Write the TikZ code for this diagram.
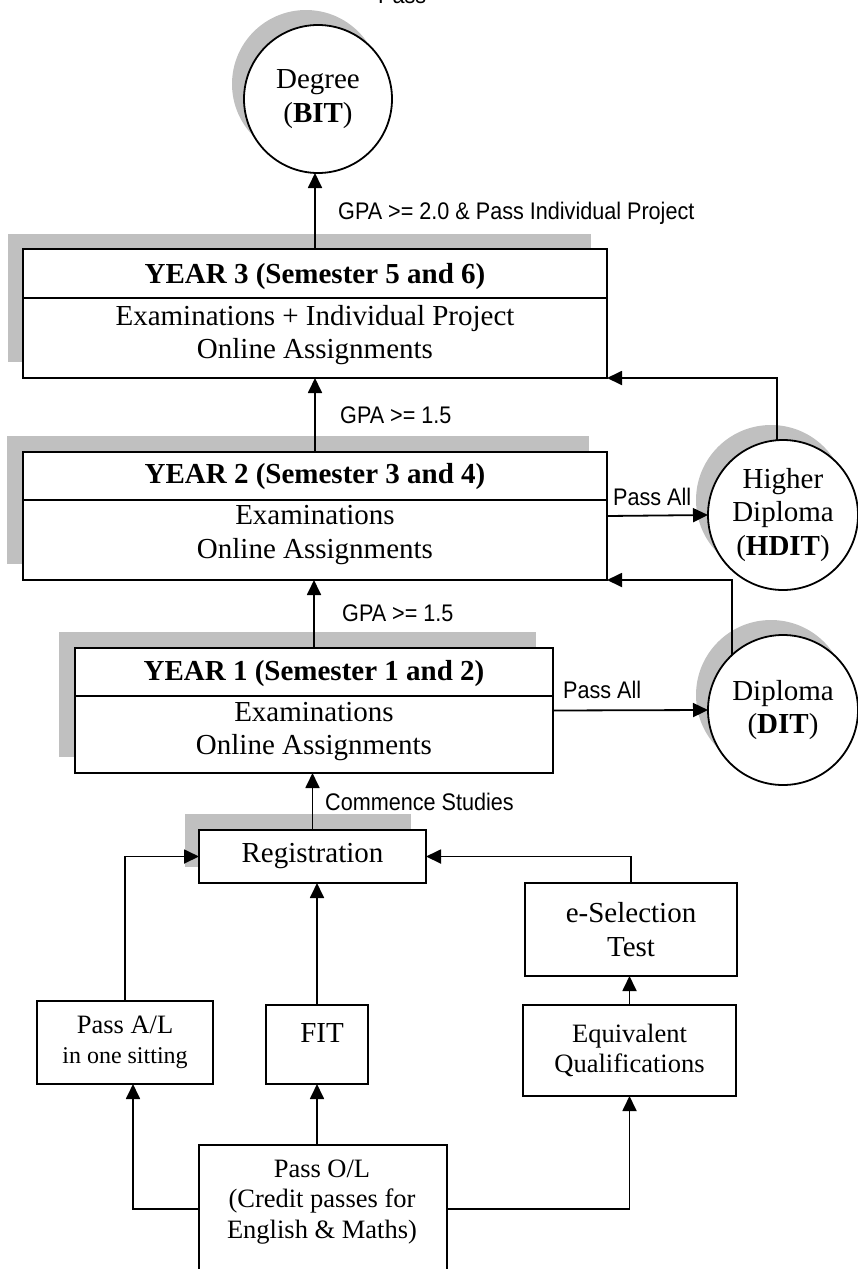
\documentclass[tikz,border=0pt]{standalone}
\usepackage{fontspec}
\setmainfont{Liberation Serif}
\newfontfamily\lblfont[FakeStretch=0.9]{Liberation Sans}
\usetikzlibrary{arrows.meta}
\definecolor{shadowgray}{RGB}{192,192,192}
\begin{document}
\begin{tikzpicture}[x=1pt,y=-1pt,
  box/.style={draw, fill=white, inner sep=0pt, outer sep=0pt, line width=1.8pt},
  bigtxt/.style={font={\fontsize{29}{33.5}\selectfont}, align=center, inner sep=0pt},
  midtxt/.style={font={\fontsize{26.5}{30.5}\selectfont}, align=center, inner sep=0pt},
  titletxt/.style={font={\fontsize{29}{33.5}\selectfont\bfseries}, align=center, inner sep=0pt},
  circ/.style={circle, draw, fill=white, inner sep=0pt, outer sep=0pt, line width=1.8pt,
    minimum size=150pt, align=center, font={\fontsize{29}{33.5}\selectfont}},
  divider/.style={line width=1.8pt},
  arr/.style={-{Triangle[length=15pt,width=14pt]}, line width=1.8pt},
  lbl/.style={font={\lblfont\fontsize{24}{28}\selectfont}, anchor=west, inner sep=0pt}
]
\useasboundingbox (0,0) rectangle (857,1269);

% shadows
\fill[shadowgray] (8,234) rectangle (591,362);
\fill[shadowgray] (7,436) rectangle (589,564);
\fill[shadowgray] (59,632) rectangle (536,757);
\fill[shadowgray] (185,814) rectangle (411,867);
\fill[shadowgray] (306,84) circle[radius=74];
\fill[shadowgray] (771,500) circle[radius=75];
\fill[shadowgray] (771,695) circle[radius=75];

% circles
\node[circ, minimum size=148pt] (deg) at (318,99) {Degree\\(\textbf{BIT})};
\node[circ] (hdit) at (783,515) {Higher\\Diploma\\(\textbf{HDIT})};
\node[circ] (dit) at (783,710) {Diploma\\(\textbf{DIT})};

% Year 3
\node[box, minimum width=584pt, minimum height=129pt] (y3) at (315,313.5) {};
\draw[divider] (23,298) -- (607,298);
\node[titletxt] (y3t) at (315,277) {YEAR 3 (Semester 5 and 6)};
\node[bigtxt] (y3b) at (315,335) {Examinations + Individual Project\\Online Assignments};

% Year 2
\node[box, minimum width=584pt, minimum height=128pt] (y2) at (315,516) {};
\draw[divider] (23,500) -- (607,500);
\node[titletxt] (y2t) at (315,477) {YEAR 2 (Semester 3 and 4)};
\node[bigtxt] (y2b) at (315,535) {Examinations\\Online Assignments};

% Year 1
\node[box, minimum width=478pt, minimum height=125pt] (y1) at (314,710.5) {};
\draw[divider] (75,696) -- (553,696);
\node[titletxt] (y1t) at (314,674) {YEAR 1 (Semester 1 and 2)};
\node[bigtxt] (y1b) at (314,731.5) {Examinations\\Online Assignments};

% lower boxes
\node[box, bigtxt, minimum width=227pt, minimum height=53pt] (reg) at (312.5,856.5) {Registration};
\node[box, bigtxt, minimum width=212pt, minimum height=93pt] (esel) at (631,929.5) {e-Selection\\Test};
\node[box, midtxt, minimum width=213pt, minimum height=91pt] (eq) at (629.5,1050.5) {Equivalent\\Qualifications};
\node[box, midtxt, minimum width=176pt, minimum height=83pt] (al) at (125,1042.5)
  {Pass A/L\\{\fontsize{24}{29}\selectfont in one sitting}};
\node[box, minimum width=102pt, minimum height=79pt] (fit) at (317,1044.5) {};
\node[bigtxt] (fitt) at (322,1033) {FIT};
\node[box, minimum width=248pt, minimum height=128pt] (ol) at (323,1209) {};
\node[midtxt] (olt) at (322,1202) {Pass O/L\\(Credit passes for\\English \& Maths)};

% connectors
\draw[arr] (y3.north) -- (y3.north |- deg.south);
\draw[arr] (y2.north) -- (y2.north |- y3.south);
\draw[arr] (y1.north) -- (y1.north |- y2.south);
\draw[arr] (reg.north) -- (reg.north |- y1.south);
\draw[arr] (y2.east) -- (hdit.west);
\draw[arr] (y1.east) -- (dit.west);
\draw[arr] ([xshift=-6pt]hdit.north) |- (y3.south east);
\draw[arr] (dit.133) |- (y2.south east);
\draw[arr] (al.north) |- (reg.west);
\draw[arr] (esel.north) |- (reg.east);
\draw[arr] (fit.north) -- (fit.north |- reg.south);
\draw[arr] (eq.north) -- (eq.north |- esel.south);
\draw[arr] (fit.south |- ol.north) -- (fit.south);
\draw[arr] (ol.west) -| ([xshift=8pt]al.south);
\draw[arr] (ol.east) -| (eq.south);

% labels
\node[lbl] (l1) at (338,213) {GPA >= 2.0 \& Pass Individual Project};
\node[lbl] (l2) at (340,415) {GPA >= 1.5};
\node[lbl] (l3) at (342,613) {GPA >= 1.5};
\node[lbl] (l4) at (613,497) {Pass All};
\node[lbl] (l5) at (563,690) {Pass All};
\node[lbl] (l6) at (325,802) {Commence Studies};
\node[lbl, anchor=base west] (l7) at (378,3) {Pass};
\end{tikzpicture}
\end{document}
